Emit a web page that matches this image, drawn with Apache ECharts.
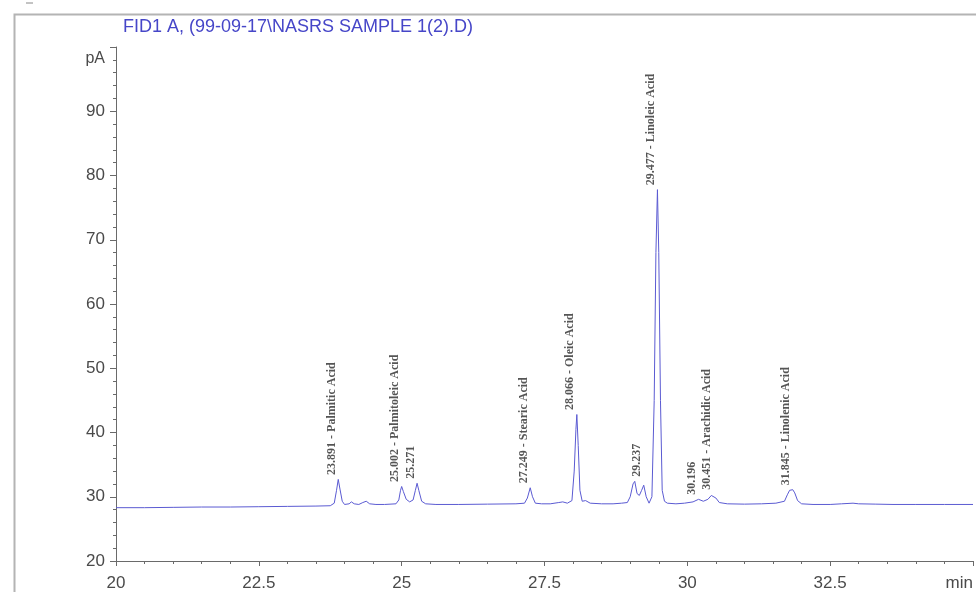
<!DOCTYPE html>
<html><head><meta charset="utf-8">
<script src="https://cdn.jsdelivr.net/npm/echarts@6/dist/echarts.min.js"></script>
<style>html,body{margin:0;padding:0;background:#fff}#c{width:976px;height:592px}</style>
</head><body><div id="c"></div>
<script>
// Chromatogram trace (time in min, signal in pA)
const traceTime = [20.0,20.5,21.0,21.5,22.0,22.5,23.0,23.5,23.75,23.82,23.86,23.89,23.92,23.96,24.0,24.08,24.12,24.17,24.25,24.32,24.38,24.44,24.55,24.7,24.9,24.95,24.98,25.0,25.03,25.08,25.14,25.2,25.24,25.27,25.3,25.35,25.42,25.6,26.0,26.5,27.0,27.15,27.2,27.25,27.29,27.34,27.45,27.6,27.75,27.82,27.9,27.98,28.02,28.05,28.066,28.09,28.12,28.16,28.22,28.3,28.5,28.7,28.85,28.95,29.0,29.05,29.08,29.12,29.16,29.2,29.237,29.28,29.33,29.38,29.42,29.45,29.477,29.5,29.53,29.56,29.6,29.65,29.8,29.95,30.1,30.196,30.28,30.36,30.42,30.451,30.5,30.56,30.7,31.0,31.3,31.55,31.7,31.75,31.79,31.82,31.845,31.88,31.93,32.0,32.2,32.5,32.7,32.9,33.0,33.3,33.6,34.0,34.5,35.0];
const traceSignal = [28.3,28.3,28.35,28.4,28.4,28.45,28.5,28.55,28.6,29.0,31.0,32.7,31.2,29.3,28.8,28.9,29.2,28.9,28.8,29.1,29.3,28.9,28.8,28.8,28.9,29.5,31.0,31.6,30.8,29.6,29.2,29.5,31.0,32.1,31.0,29.3,28.9,28.8,28.8,28.85,28.9,29.0,29.8,31.4,30.0,29.0,28.9,28.9,29.1,29.2,29.0,29.4,34.0,40.5,42.8,38.0,31.0,29.3,29.4,29.0,28.9,28.9,29.0,29.1,30.0,32.0,32.4,30.5,30.2,31.0,31.8,30.0,29.0,30.0,45.0,68.0,77.8,68.0,45.0,31.0,29.3,29.0,28.9,29.0,29.2,29.6,29.3,29.6,30.2,30.4,29.8,29.1,28.9,28.85,28.9,29.0,29.3,30.3,31.0,30.7,31.1,30.6,29.4,28.9,28.8,28.8,28.9,29.0,28.9,28.85,28.8,28.8,28.8,28.8];

// Integrated peak annotations
const peakTimes   = [23.891, 25.002, 25.271, 27.249, 28.066, 29.237, 29.477, 30.196, 30.451, 31.845];
const peakHeights = [32.7, 31.6, 32.1, 31.4, 42.8, 32.4, 77.8, 29.6, 30.4, 31.1];
const peakNames   = ['Palmitic Acid', 'Palmitoleic Acid', '', 'Stearic Acid', 'Oleic Acid', '', 'Linoleic Acid', '', 'Arachidic Acid', 'Linolenic Acid'];

// Axis settings
const xMin = 20, xMax = 35, xStep = 2.5;
const yMin = 20, yMax = 100, yStep = 10;
const titleText = 'FID1 A, (99-09-17\\NASRS SAMPLE 1(2).D)';

const chart = echarts.init(document.getElementById('c'));
const axisGray = '#6a6a6a';
const sans = 'Liberation Sans, Arial';
chart.setOption({
  animation: false,
  title: { text: titleText, left: 118, top: 13,
    textStyle: { fontFamily: sans, fontSize: 18, fontWeight: 'normal', color: '#4646c8' } },
  graphic: [
    { type: 'rect', left: 12, top: 12, shape: { width: 1000, height: 700 }, style: { fill: 'none', stroke: '#b4b4b4', lineWidth: 2 } },
    { type: 'line', shape: { x1: 26, y1: 3, x2: 33, y2: 3 }, style: { stroke: '#888', lineWidth: 1 } }
  ],
  grid: { left: 116, right: 2, top: 47, bottom: 30, containLabel: false },
  xAxis: {
    type: 'value', min: xMin, max: xMax, interval: xStep,
    axisLine: { show: true, lineStyle: { color: axisGray } },
    axisTick: { show: true, length: 5, lineStyle: { color: axisGray } },
    minorTick: { show: true, splitNumber: 5, length: 3, lineStyle: { color: axisGray } },
    splitLine: { show: false },
    axisLabel: { color: '#4a4a4a', fontFamily: sans, fontSize: 17, margin: 14,
      alignMaxLabel: 'right',
      formatter: v => v === xMax ? 'min' : String(v) }
  },
  yAxis: {
    type: 'value', min: yMin, max: yMax, interval: yStep,
    axisLine: { show: true, lineStyle: { color: axisGray } },
    axisTick: { show: true, length: 6, lineStyle: { color: axisGray } },
    minorTick: { show: true, splitNumber: 5, length: 3, lineStyle: { color: axisGray } },
    splitLine: { show: false },
    axisLabel: { color: '#4a4a4a', fontFamily: sans, fontSize: 17, margin: 11,
      formatter: v => v === yMax ? '{p|pA}' : String(v),
      rich: { p: { padding: [24, 0, 0, 0], color: '#4a4a4a', fontFamily: sans, fontSize: 16 } } }
  },
  series: [
    { type: 'line', data: traceTime.map((t, i) => [t, traceSignal[i]]), showSymbol: false, symbol: 'none',
      lineStyle: { color: '#5a5ad2', width: 1 }, z: 2 },
    { type: 'scatter', data: peakTimes.map((t, i) => [t, peakHeights[i]]), symbolSize: 1,
      itemStyle: { color: 'rgba(0,0,0,0)' }, z: 3,
      label: { show: true, position: [0, -4], rotate: 90, align: 'left', verticalAlign: 'bottom',
        fontFamily: 'Liberation Serif, Times New Roman', fontSize: 12, fontWeight: 'bold', color: '#2a2a2a',
        formatter: p => peakTimes[p.dataIndex].toFixed(3) + (peakNames[p.dataIndex] ? ' - ' + peakNames[p.dataIndex] : '') } }
  ]
});
</script></body></html>
